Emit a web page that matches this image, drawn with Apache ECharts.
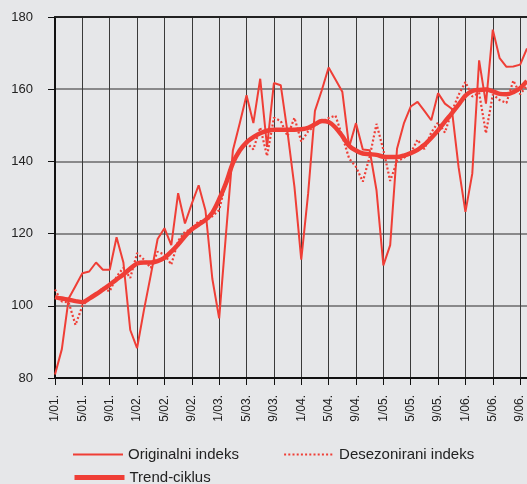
<!DOCTYPE html>
<html>
<head>
<meta charset="utf-8">
<script src="https://cdn.jsdelivr.net/npm/echarts@6/dist/echarts.min.js"></script>
<style>
  html, body { margin: 0; padding: 0; background: #e6e7e9; }
  #chart { width: 527px; height: 484px; }
</style>
</head>
<body>
<div id="chart"></div>
<script>
// mjeseci 1/01. - 10/06.
var months = [
  '1/01.','2/01.','3/01.','4/01.','5/01.','6/01.','7/01.','8/01.','9/01.','10/01.','11/01.','12/01.',
  '1/02.','2/02.','3/02.','4/02.','5/02.','6/02.','7/02.','8/02.','9/02.','10/02.','11/02.','12/02.',
  '1/03.','2/03.','3/03.','4/03.','5/03.','6/03.','7/03.','8/03.','9/03.','10/03.','11/03.','12/03.',
  '1/04.','2/04.','3/04.','4/04.','5/04.','6/04.','7/04.','8/04.','9/04.','10/04.','11/04.','12/04.',
  '1/05.','2/05.','3/05.','4/05.','5/05.','6/05.','7/05.','8/05.','9/05.','10/05.','11/05.','12/05.',
  '1/06.','2/06.','3/06.','4/06.','5/06.','6/06.','7/06.','8/06.','9/06.','10/06.'
];

var originalni = [
  81, 88, 102, 105.5, 109, 109.5, 112, 110, 110, 119, 112, 93.3,
  88.3, 98.8, 108.5, 118.5, 121.5, 116.8, 131.2, 122.8, 128.3, 133.4, 126.4, 107.5,
  96.5, 120, 143, 150.5, 158.3, 150.6, 162.9, 144, 161.7, 161.1, 148, 133,
  112.8, 131, 154, 159.7, 166, 162.7, 159.3, 144, 150.6, 143.3, 143.1, 132,
  111.2, 116.8, 143.5, 150.5, 155.2, 156.5, 154, 151.4, 158.9, 156, 154.6, 138.4,
  126, 136.6, 168, 156, 176.5, 168.6, 166.2, 166.3, 166.8, 171.3
];

var desezonirani = [
  104.5, 101.2, 100.9, 94.7, 100, 102.1, 103, 104.9, 104, 108.1, 110.5, 107.7,
  114.6, 112.8, 110.5, 115, 114.2, 111.4, 118, 120.5, 121.3, 123.4, 123.6, 124.8,
  126.5, 134.5, 140, 143, 145.2, 143.3, 149.4, 141.5, 152.1, 151.2, 147, 152.1,
  145.5, 148.3, 150, 151, 152, 152.7, 147, 140.8, 138.5, 134.4, 141.3, 150.4,
  143.2, 134.6, 140, 141, 142.3, 146, 143.4, 148, 150.8, 148, 153.8, 158.4,
  162, 158, 159, 147.8, 158.5, 157, 156.2, 162.4, 158.6, 161
];

var trend = [
  102.4, 102, 101.7, 101.3, 101, 102, 103.2, 104.5, 105.8, 107.3, 108.7, 110.3,
  111.7, 112, 112, 112.4, 113.3, 115, 117, 119.3, 121.2, 122.5, 123.8, 125.8,
  129.5, 134, 139.5, 143, 145.3, 146.7, 147.8, 148.5, 148.8, 148.8, 148.8, 148.8,
  148.9, 149.3, 150.3, 151.2, 150.9, 149.4, 147, 144.3, 143, 142.2, 142, 141.8,
  141.3, 141.2, 141.2, 141.6, 142.3, 143.2, 144.6, 146.5, 148.6, 151, 153.3, 155.7,
  158.2, 159.5, 159.8, 159.9, 159.4, 158.7, 158.6, 159.2, 160.3, 162.3
];

var red = '#ef3e36';
var font = 'Liberation Sans, Arial, Helvetica, sans-serif';

function legendItem(name, left, top, lw, ltype) {
  return {
    data: [name],
    left: left, top: top,
    itemWidth: 50, itemHeight: 16,
    itemStyle: { opacity: 0 },
    lineStyle: { width: lw, type: ltype, color: red },
    textStyle: { fontSize: 15, color: '#222', fontFamily: font }
  };
}

var myChart = echarts.init(document.getElementById('chart'));
myChart.setOption({
  backgroundColor: '#e6e7e9',
  animation: false,
  textStyle: { fontFamily: font },
  grid: { left: 55, right: 0, top: 17, bottom: 106 },
  legend: [
    legendItem('Originalni indeks', 67, 442, 2, 'solid'),
    legendItem('Desezonirani indeks', 278, 442, 2.2, [2, 2.2]),
    legendItem('Trend-ciklus', 67, 465, 5, 'solid')
  ],
  xAxis: [
    {
      type: 'category',
      data: months,
      boundaryGap: false,
      axisLine: { lineStyle: { color: '#111', width: 2 } },
      axisTick: { interval: 3, length: 7, lineStyle: { color: '#111', width: 1 } },
      axisLabel: {
        interval: 3, rotate: 90, margin: 17,
        fontSize: 12, color: '#222', fontFamily: font
      },
      splitLine: { show: true, interval: 3, lineStyle: { color: '#3a3a3a', width: 1 } }
    },
    {
      // gornja crta okvira
      type: 'category',
      data: months,
      position: 'top',
      boundaryGap: false,
      axisLine: { lineStyle: { color: '#222', width: 2 } },
      axisTick: { show: false },
      axisLabel: { show: false },
      splitLine: { show: false }
    }
  ],
  yAxis: {
    type: 'value',
    min: 80, max: 180, interval: 20,
    axisLine: { show: true, lineStyle: { color: '#111', width: 2 } },
    axisTick: { show: true, length: 7, lineStyle: { color: '#111', width: 1 } },
    axisLabel: { fontSize: 13, color: '#222', margin: 22, fontFamily: font },
    splitLine: { lineStyle: { color: '#6a6a6a', width: 1.5 } }
  },
  series: [
    {
      name: 'Originalni indeks',
      type: 'line',
      data: originalni,
      symbol: 'none',
      lineStyle: { color: red, width: 2 },
      itemStyle: { color: red },
      z: 2
    },
    {
      name: 'Desezonirani indeks',
      type: 'line',
      data: desezonirani,
      symbol: 'none',
      lineStyle: { color: red, width: 2.2, type: [2, 2.2] },
      itemStyle: { color: red },
      z: 3
    },
    {
      name: 'Trend-ciklus',
      type: 'line',
      data: trend,
      symbol: 'none',
      smooth: 0.3,
      lineStyle: { color: red, width: 4.5 },
      itemStyle: { color: red },
      z: 4
    }
  ]
});
</script>
</body>
</html>
